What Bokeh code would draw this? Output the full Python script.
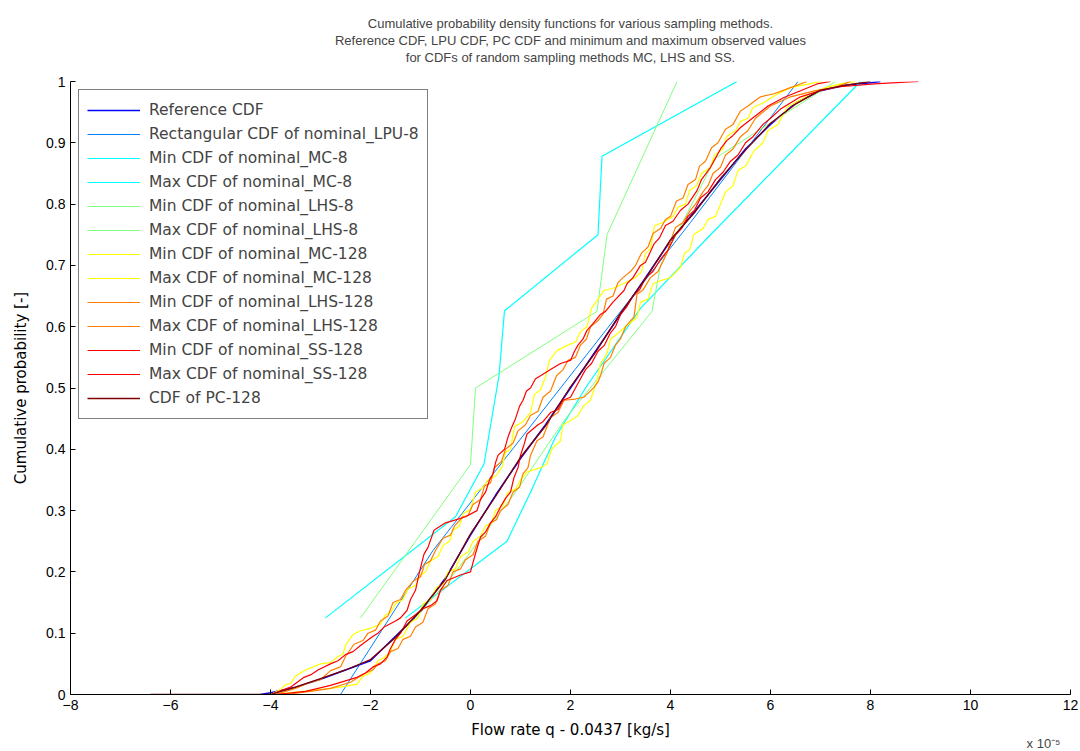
from bokeh.plotting import figure
from bokeh.models import Title, Range1d, FixedTicker, Legend
from bokeh.embed import file_html
from bokeh.resources import INLINE

FONT = "Liberation Sans"
WIDE_FONT = "DejaVu Sans"

# ---------------- data (x in units of 1e-5 kg/s, y = cumulative probability) -------------
ref_x = [-4.2, -4.0, -3.5, -3.0, -2.5, -2.0, -1.5, -1.0, -0.5, 0.0, 0.5, 1.0, 1.5, 2.0, 2.5, 3.0,
         3.5, 4.0, 4.5, 5.0, 5.5, 6.0, 6.5, 7.0, 7.5, 8.0, 8.2]
ref_y = [0.0, 0.003, 0.012, 0.025, 0.04, 0.055, 0.095, 0.135, 0.19, 0.26, 0.325, 0.385, 0.44, 0.5,
         0.56, 0.62, 0.68, 0.74, 0.79, 0.84, 0.89, 0.93, 0.965, 0.985, 0.994, 0.998, 1.0]

lpu_x = [-2.6, -0.75, 4.4, 6.55]
lpu_y = [0.0, 0.235, 0.77, 1.0]

mc8_min_x = [-1.3, 0.73, 1.2, 1.7, 2.3, 3.4, 4.8, 7.8]
mc8_min_y = [0.125, 0.25, 0.33, 0.42, 0.5, 0.63, 0.75, 1.0]
mc8_max_x = [-2.9, -0.3, 0.27, 0.57, 0.68, 2.55, 2.63, 5.33]
mc8_max_y = [0.125, 0.29, 0.376, 0.52, 0.626, 0.75, 0.878, 1.0]

lhs8_min_x = [-1.1, -0.3, 0.9, 1.9, 3.63, 3.8, 4.9, 7.3]
lhs8_min_y = [0.125, 0.2, 0.33, 0.45, 0.625, 0.7, 0.875, 1.0]
lhs8_max_x = [-2.2, 0.0, 0.1, 2.53, 2.73, 4.13]
lhs8_max_y = [0.125, 0.375, 0.5, 0.625, 0.75, 1.0]

mc128_min_pts = [(-3.9, 0.0), (-3.5, 0.004), (-3.0, 0.008), (-2.6, 0.012), (-2.27, 0.017),
    (-2.15, 0.03), (-2.0, 0.035), (-1.85, 0.055), (-1.73, 0.06), (-1.6, 0.07), (-1.5, 0.09),
    (-1.35, 0.095), (-1.2, 0.118), (-1.05, 0.125), (-0.95, 0.148), (-0.8, 0.155), (-0.68, 0.175),
    (-0.55, 0.18), (-0.45, 0.2), (-0.3, 0.205), (-0.2, 0.225), (-0.05, 0.232), (0.05, 0.25),
    (0.2, 0.258), (0.3, 0.275), (0.42, 0.28), (0.5, 0.3), (0.65, 0.308), (0.75, 0.33),
    (0.9, 0.335), (1.0, 0.35), (1.13, 0.363), (1.4, 0.37), (1.53, 0.376), (1.62, 0.4),
    (1.8, 0.414), (1.85, 0.44), (2.0, 0.447), (2.15, 0.455), (2.25, 0.47), (2.4, 0.48),
    (2.53, 0.512), (2.6, 0.54), (2.73, 0.556), (2.8, 0.58), (2.93, 0.588), (3.1, 0.6),
    (3.33, 0.615), (3.4, 0.64), (3.55, 0.645), (3.65, 0.67), (3.8, 0.675), (4.0, 0.68),
    (4.2, 0.697), (4.28, 0.72), (4.38, 0.725), (4.47, 0.751), (4.65, 0.76), (4.75, 0.775),
    (4.9, 0.78), (5.0, 0.8), (5.1, 0.82), (5.25, 0.83), (5.35, 0.855), (5.5, 0.862),
    (5.67, 0.887), (5.85, 0.9), (5.95, 0.92), (6.15, 0.93), (6.33, 0.958), (6.6, 0.97),
    (6.8, 0.98), (7.1, 0.99), (7.4, 0.996), (7.7, 1.0)]
mc128_max_pts = [(-4.0, 0.0), (-3.8, 0.008), (-3.7, 0.016), (-3.6, 0.018), (-3.5, 0.03),
    (-3.3, 0.04), (-3.0, 0.05), (-2.8, 0.052), (-2.65, 0.062), (-2.55, 0.066), (-2.5, 0.08),
    (-2.35, 0.098), (-2.2, 0.104), (-2.0, 0.108), (-1.8, 0.115), (-1.7, 0.13), (-1.6, 0.133),
    (-1.5, 0.148), (-1.35, 0.155), (-1.25, 0.172), (-1.1, 0.178), (-1.0, 0.195), (-0.9, 0.2),
    (-0.8, 0.218), (-0.65, 0.225), (-0.55, 0.243), (-0.42, 0.25), (-0.35, 0.268), (-0.22, 0.275),
    (-0.15, 0.295), (0.0, 0.302), (0.1, 0.33), (0.25, 0.338), (0.35, 0.35), (0.5, 0.356),
    (0.63, 0.371), (0.7, 0.395), (0.8, 0.4), (0.88, 0.437), (1.05, 0.445), (1.2, 0.46),
    (1.28, 0.49), (1.4, 0.497), (1.5, 0.518), (1.58, 0.545), (1.73, 0.561), (1.95, 0.57),
    (2.1, 0.575), (2.2, 0.592), (2.33, 0.6), (2.42, 0.63), (2.55, 0.645), (2.67, 0.659),
    (2.9, 0.664), (3.1, 0.672), (3.3, 0.68), (3.42, 0.69), (3.5, 0.72), (3.6, 0.727),
    (3.68, 0.765), (3.85, 0.77), (4.05, 0.78), (4.15, 0.795), (4.3, 0.8), (4.38, 0.822),
    (4.52, 0.83), (4.62, 0.85), (4.8, 0.86), (4.88, 0.88), (5.05, 0.89), (5.12, 0.91),
    (5.3, 0.92), (5.4, 0.935), (5.55, 0.94), (5.65, 0.958), (5.85, 0.965), (6.1, 0.978),
    (6.4, 0.99), (6.7, 0.995), (7.0, 1.0)]

lhs128_min_pts = [(-3.7, 0.0), (-3.2, 0.005), (-2.8, 0.01), (-2.4, 0.02), (-2.1, 0.035),
    (-1.95, 0.04), (-1.85, 0.05), (-1.7, 0.055), (-1.6, 0.07), (-1.45, 0.075), (-1.35, 0.09),
    (-1.2, 0.095), (-1.1, 0.11), (-0.95, 0.118), (-0.85, 0.14), (-0.7, 0.148), (-0.6, 0.17),
    (-0.45, 0.178), (-0.35, 0.2), (-0.2, 0.205), (-0.1, 0.22), (0.05, 0.228), (0.15, 0.25),
    (0.3, 0.258), (0.4, 0.28), (0.52, 0.285), (0.6, 0.3), (0.75, 0.31), (0.85, 0.33),
    (0.98, 0.338), (1.05, 0.36), (1.15, 0.37), (1.2, 0.39), (1.33, 0.414), (1.45, 0.42),
    (1.6, 0.452), (1.75, 0.46), (1.87, 0.48), (2.1, 0.482), (2.27, 0.485), (2.47, 0.501),
    (2.55, 0.51), (2.6, 0.52), (2.67, 0.54), (2.8, 0.55), (2.9, 0.57), (3.0, 0.58), (3.1, 0.6),
    (3.27, 0.616), (3.33, 0.653), (3.45, 0.66), (3.6, 0.68), (3.75, 0.69), (3.93, 0.72),
    (4.0, 0.74), (4.1, 0.762), (4.25, 0.77), (4.4, 0.79), (4.5, 0.8), (4.65, 0.82),
    (4.75, 0.83), (4.85, 0.85), (5.0, 0.86), (5.1, 0.88), (5.25, 0.89), (5.4, 0.91),
    (5.55, 0.92), (5.7, 0.94), (6.0, 0.96), (6.4, 0.975), (6.9, 0.985), (7.27, 0.99), (7.6, 1.0)]
lhs128_max_pts = [(-3.9, 0.0), (-3.5, 0.01), (-3.2, 0.02), (-3.0, 0.024), (-2.8, 0.039),
    (-2.6, 0.045), (-2.5, 0.062), (-2.33, 0.082), (-2.15, 0.088), (-2.05, 0.1), (-1.9, 0.105),
    (-1.8, 0.12), (-1.65, 0.128), (-1.55, 0.15), (-1.4, 0.155), (-1.3, 0.17), (-1.13, 0.186),
    (-1.0, 0.192), (-0.92, 0.212), (-0.8, 0.218), (-0.7, 0.235), (-0.55, 0.255), (-0.4, 0.26),
    (-0.32, 0.275), (-0.15, 0.29), (-0.05, 0.292), (0.05, 0.31), (0.2, 0.318), (0.28, 0.34),
    (0.4, 0.345), (0.48, 0.37), (0.62, 0.38), (0.7, 0.4), (0.85, 0.41), (0.95, 0.43),
    (1.1, 0.44), (1.2, 0.455), (1.35, 0.462), (1.45, 0.485), (1.6, 0.495), (1.72, 0.52),
    (1.85, 0.53), (1.95, 0.545), (2.1, 0.55), (2.2, 0.57), (2.32, 0.58), (2.4, 0.6),
    (2.55, 0.61), (2.65, 0.62), (2.72, 0.645), (2.85, 0.65), (2.95, 0.672), (3.05, 0.68),
    (3.2, 0.69), (3.3, 0.7), (3.42, 0.72), (3.55, 0.73), (3.65, 0.752), (3.8, 0.76),
    (3.9, 0.775), (4.0, 0.78), (4.12, 0.805), (4.25, 0.81), (4.35, 0.832), (4.5, 0.84),
    (4.58, 0.862), (4.7, 0.87), (4.82, 0.892), (4.95, 0.9), (5.1, 0.922), (5.25, 0.93),
    (5.4, 0.952), (5.55, 0.96), (5.8, 0.975), (6.07, 0.98), (6.4, 0.99), (6.73, 1.0)]

ss128_min_pts = [(-3.9, 0.0), (-3.3, 0.005), (-2.8, 0.015), (-2.27, 0.028), (-2.1, 0.035),
    (-1.95, 0.045), (-1.8, 0.05), (-1.67, 0.061), (-1.6, 0.075), (-1.5, 0.09), (-1.4, 0.1),
    (-1.27, 0.12), (-1.1, 0.13), (-0.95, 0.14), (-0.8, 0.145), (-0.67, 0.153), (-0.6, 0.17),
    (-0.47, 0.186), (-0.2, 0.195), (0.0, 0.2), (0.05, 0.215), (0.1, 0.23), (0.2, 0.257),
    (0.3, 0.265), (0.4, 0.28), (0.5, 0.29), (0.6, 0.306), (0.7, 0.32), (0.8, 0.33),
    (0.87, 0.354), (0.95, 0.37), (1.0, 0.39), (1.08, 0.41), (1.13, 0.425), (1.35, 0.44),
    (1.45, 0.445), (1.6, 0.46), (1.75, 0.465), (1.85, 0.48), (2.0, 0.485), (2.1, 0.5),
    (2.2, 0.515), (2.3, 0.53), (2.42, 0.54), (2.55, 0.56), (2.68, 0.57), (2.8, 0.59),
    (2.9, 0.6), (3.0, 0.62), (3.12, 0.632), (3.25, 0.65), (3.38, 0.66), (3.5, 0.68),
    (3.65, 0.69), (3.8, 0.71), (3.95, 0.725), (4.1, 0.75), (4.22, 0.76), (4.35, 0.78),
    (4.48, 0.79), (4.6, 0.81), (4.75, 0.82), (4.9, 0.84), (5.05, 0.852), (5.2, 0.87),
    (5.35, 0.88), (5.5, 0.9), (5.65, 0.91), (5.85, 0.93), (6.0, 0.94), (6.2, 0.955),
    (6.6, 0.975), (7.0, 0.985), (7.33, 0.991), (8.07, 0.996), (8.96, 1.0)]
ss128_max_pts = [(-4.0, 0.0), (-3.6, 0.012), (-3.33, 0.028), (-3.2, 0.032), (-3.05, 0.04),
    (-2.8, 0.05), (-2.65, 0.055), (-2.5, 0.065), (-2.35, 0.07), (-2.2, 0.08), (-1.95, 0.095),
    (-1.85, 0.1), (-1.73, 0.11), (-1.5, 0.12), (-1.4, 0.125), (-1.27, 0.137), (-1.2, 0.155),
    (-1.1, 0.17), (-1.02, 0.2), (-0.93, 0.229), (-0.85, 0.24), (-0.73, 0.268), (-0.5, 0.28),
    (-0.33, 0.284), (-0.1, 0.29), (0.13, 0.3), (0.2, 0.318), (0.3, 0.33), (0.38, 0.35),
    (0.45, 0.36), (0.5, 0.378), (0.55, 0.39), (0.68, 0.4), (0.75, 0.42), (0.82, 0.435),
    (0.9, 0.45), (0.98, 0.47), (1.05, 0.48), (1.12, 0.495), (1.2, 0.5), (1.3, 0.515),
    (1.4, 0.52), (1.6, 0.53), (1.8, 0.54), (2.0, 0.545), (2.08, 0.56), (2.15, 0.57),
    (2.25, 0.58), (2.33, 0.594), (2.45, 0.605), (2.6, 0.62), (2.7, 0.625), (2.85, 0.64),
    (3.07, 0.659), (3.13, 0.67), (3.25, 0.68), (3.4, 0.7), (3.5, 0.705), (3.67, 0.735),
    (3.78, 0.745), (3.9, 0.765), (4.05, 0.772), (4.2, 0.79), (4.35, 0.8), (4.53, 0.822),
    (4.62, 0.84), (4.8, 0.86), (4.9, 0.875), (5.0, 0.89), (5.13, 0.904), (5.25, 0.912),
    (5.4, 0.925), (5.67, 0.942), (5.95, 0.96), (6.27, 0.974), (6.6, 0.985), (6.93, 0.996),
    (7.2, 1.0)]

pc_x = [-6.4, -4.0, -3.5, -3.0, -2.5, -2.0, -1.5, -1.0, -0.5, 0.0, 0.5, 1.0, 1.5, 2.0, 2.5, 3.0,
        3.5, 4.0, 4.5, 5.0, 5.5, 6.0, 6.5, 7.0, 7.5, 8.0]
pc_y = [0.0, 0.0, 0.012, 0.026, 0.04, 0.057, 0.093, 0.137, 0.188, 0.262, 0.323, 0.387, 0.438,
        0.502, 0.558, 0.622, 0.678, 0.742, 0.788, 0.842, 0.888, 0.932, 0.963, 0.986, 0.994, 1.0]

x_ticks = [-8, -6, -4, -2, 0, 2, 4, 6, 8, 10, 12]
y_ticks = [0, 0.1, 0.2, 0.3, 0.4, 0.5, 0.6, 0.7, 0.8, 0.9, 1.0]
y_tick_labels = ["0", "0.1", "0.2", "0.3", "0.4", "0.5", "0.6", "0.7", "0.8", "0.9", "1"]

title_lines = ["Cumulative probability density functions for various sampling methods.",
               "Reference CDF, LPU CDF, PC CDF and minimum and maximum observed values",
               "for CDFs of random sampling methods MC, LHS and SS."]
exponent_text = "x 10\u207b\u2075"


def xs_of(pts):
    return [a for a, b in pts]


def ys_of(pts):
    return [b for a, b in pts]


series = [
    ("Reference CDF", ref_x, ref_y, "#0000FF", 1.5),
    ("Rectangular CDF of nominal_LPU-8", lpu_x, lpu_y, "#0080FF", 1.0),
    ("Min CDF of nominal_MC-8", mc8_min_x, mc8_min_y, "#00FFFF", 1.2),
    ("Max CDF of nominal_MC-8", mc8_max_x, mc8_max_y, "#00FFFF", 1.2),
    ("Min CDF of nominal_LHS-8", lhs8_min_x, lhs8_min_y, "#80FF80", 1.0),
    ("Max CDF of nominal_LHS-8", lhs8_max_x, lhs8_max_y, "#80FF80", 1.0),
    ("Min CDF of nominal_MC-128", xs_of(mc128_min_pts), ys_of(mc128_min_pts), "#FFFF00", 1.2),
    ("Max CDF of nominal_MC-128", xs_of(mc128_max_pts), ys_of(mc128_max_pts), "#FFFF00", 1.2),
    ("Min CDF of nominal_LHS-128", xs_of(lhs128_min_pts), ys_of(lhs128_min_pts), "#FF8000", 1.2),
    ("Max CDF of nominal_LHS-128", xs_of(lhs128_max_pts), ys_of(lhs128_max_pts), "#FF8000", 1.2),
    ("Min CDF of nominal_SS-128", xs_of(ss128_min_pts), ys_of(ss128_min_pts), "#FF0000", 1.2),
    ("Max CDF of nominal_SS-128", xs_of(ss128_max_pts), ys_of(ss128_max_pts), "#FF0000", 1.2),
    ("CDF of PC-128", pc_x, pc_y, "#800000", 1.3),
]

# ---------------- figure ----------------
p = figure(width=1080, height=751, output_backend="svg", toolbar_location=None,
           x_range=Range1d(-8, 12), y_range=Range1d(0, 1),
           min_border_left=70, min_border_right=10, min_border_top=81, min_border_bottom=57)
p.background_fill_color = "white"
p.border_fill_color = "white"
p.outline_line_color = None
p.grid.visible = False


def make_title(text, **kw):
    return Title(text=text, align="center", text_font=FONT, text_font_size="13px",
                 text_font_style="normal", standoff=0, **kw)


# Titles: p.title is outermost; added titles stack outward in order of addition
p.title.text = title_lines[0]
p.title.align = "center"
p.title.text_font = FONT
p.title.text_font_size = "13px"
p.title.text_font_style = "normal"
p.title.standoff = 0
p.add_layout(make_title(" "), "above")          # spacer between title block and plot
p.add_layout(make_title(title_lines[2]), "above")
p.add_layout(make_title(title_lines[1]), "above")

renderers = []
for label, xs, ys, color, lw in series:
    r = p.line(xs, ys, line_color=color, line_width=lw)
    renderers.append((label, [r]))

legend = Legend(items=renderers, location="top_left")
legend.margin = 8
legend.padding = 8
legend.spacing = 0
legend.label_height = 24
legend.glyph_height = 24
legend.glyph_width = 53
legend.label_standoff = 9
legend.label_text_font = WIDE_FONT
legend.label_text_font_size = "15.5px"
legend.border_line_color = "black"
legend.border_line_width = 1
legend.background_fill_color = "white"
legend.background_fill_alpha = 1.0
p.add_layout(legend)

xa = p.xaxis[0]
xa.ticker = FixedTicker(ticks=x_ticks)
xa.axis_label = "Flow rate q - 0.0437 [kg/s]"
ya = p.yaxis[0]
ya.ticker = FixedTicker(ticks=y_ticks)
ya.major_label_overrides = {t: s for t, s in zip(y_ticks, y_tick_labels)}
ya.axis_label = "Cumulative probability [-]"
for ax in (xa, ya):
    ax.major_tick_in = 5
    ax.major_tick_out = 0
    ax.minor_tick_in = 0
    ax.minor_tick_out = 0
    ax.axis_line_color = "black"
    ax.major_tick_line_color = "black"
    ax.major_label_text_font = FONT
    ax.major_label_text_font_size = "14px"
    ax.major_label_text_color = "black"
    ax.axis_label_text_font = WIDE_FONT
    ax.axis_label_text_font_size = "15px"
    ax.axis_label_text_font_style = "normal"
    ax.axis_label_text_color = "black"
xa.axis_label_standoff = 8
ya.axis_label_standoff = 13

# exponent marker under the right end of the x axis
p.add_layout(Title(text=exponent_text, align="right", text_font=FONT, text_font_size="13px",
                   text_font_style="normal", standoff=-15, offset=10), "below")

open("out.html", "w").write(file_html(p, INLINE))
